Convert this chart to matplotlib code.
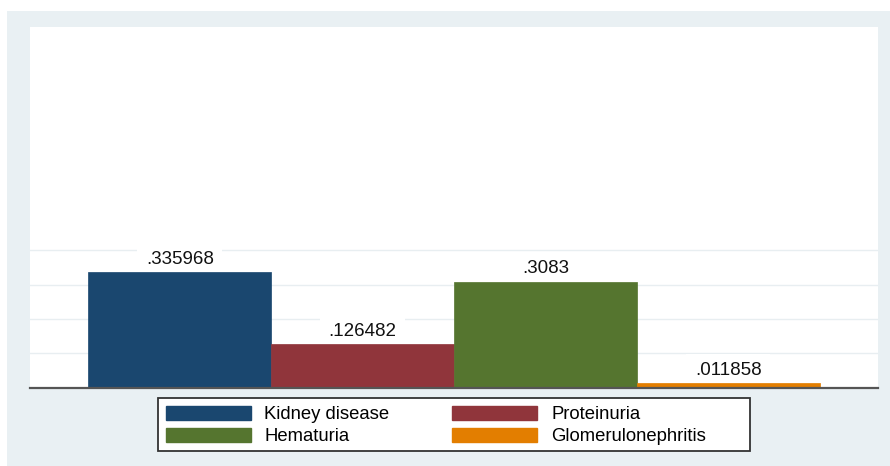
import matplotlib.pyplot as plt
from matplotlib.patches import Rectangle, Patch

# values
labels = ["Kidney disease", "Proteinuria", "Hematuria", "Glomerulonephritis"]
values = [0.335968, 0.126482, 0.3083, 0.011858]
value_text = [".335968", ".126482", ".3083", ".011858"]
colors = ["#1a476f", "#90353b", "#55752f", "#e37e00"]
grid_y = [0.1, 0.2, 0.3, 0.4]

W, H = 890, 466
plt.rcParams['font.family'] = ['Liberation Sans', 'DejaVu Sans']

fig = plt.figure(figsize=(W / 100, H / 100), dpi=100)
fig.patch.set_facecolor("white")


def fx(px):
    return px / W


def fy(py):
    # pixel from top -> figure fraction from bottom
    return 1 - py / H


# outer graph region (Stata-like light bluish gray)
fig.patches.append(Rectangle((fx(7), 0), fx(W - 7), fy(11), transform=fig.transFigure,
                             facecolor="#e9f0f3", edgecolor="none", zorder=-10))

# plot region
ax = fig.add_axes([fx(30), fy(387.5), fx(848), (387.5 - 27) / H])
ax.set_zorder(2)
ax.set_facecolor("white")

x = list(range(len(values)))
ax.bar(x, values, width=1.0, color=colors, edgecolor=colors, linewidth=0.5, zorder=3)

for yy in grid_y:
    ax.axhline(yy, color="#e8eef1", lw=1.0, zorder=0)

# labels sit under the bars so their white boxes only hide the grid
for xi, v, t in zip(x, values, value_text):
    ax.annotate(t, (xi, v), xytext=(0, 6), textcoords="offset points",
                ha="center", va="baseline", fontsize=13.5, color="#111111", zorder=2,
                bbox=dict(boxstyle="square,pad=0.45", fc="white", ec="none"))

ax.set_xlim(-0.82, 3.82)
ax.set_ylim(0, 1.051)
ax.set_xticks([])
ax.set_yticks([])
for s in ["top", "right", "left"]:
    ax.spines[s].set_visible(False)
ax.spines["bottom"].set_color("#555555")
ax.spines["bottom"].set_linewidth(1.6)
ax.spines["bottom"].set_zorder(4)

# legend frame
fig.patches.append(Rectangle((fx(158), fy(451)), fx(592), (451 - 398) / H,
                             transform=fig.transFigure, facecolor="white",
                             edgecolor="#333333", linewidth=1.3, zorder=1))

handles = [Patch(facecolor=c, edgecolor=c) for c in colors]
order = [0, 2, 1, 3]
leg = fig.legend([handles[i] for i in order], [labels[i] for i in order],
                 ncol=2, frameon=False, fontsize=13.3,
                 loc="upper left", bbox_to_anchor=(fx(160), fy(400)),
                 handlelength=4.6, handleheight=0.8, handletextpad=0.75,
                 columnspacing=3.4, labelspacing=0.25, borderpad=0.3,
                 borderaxespad=0)
leg.set_zorder(5)

fig.savefig("out.png", dpi=100)
